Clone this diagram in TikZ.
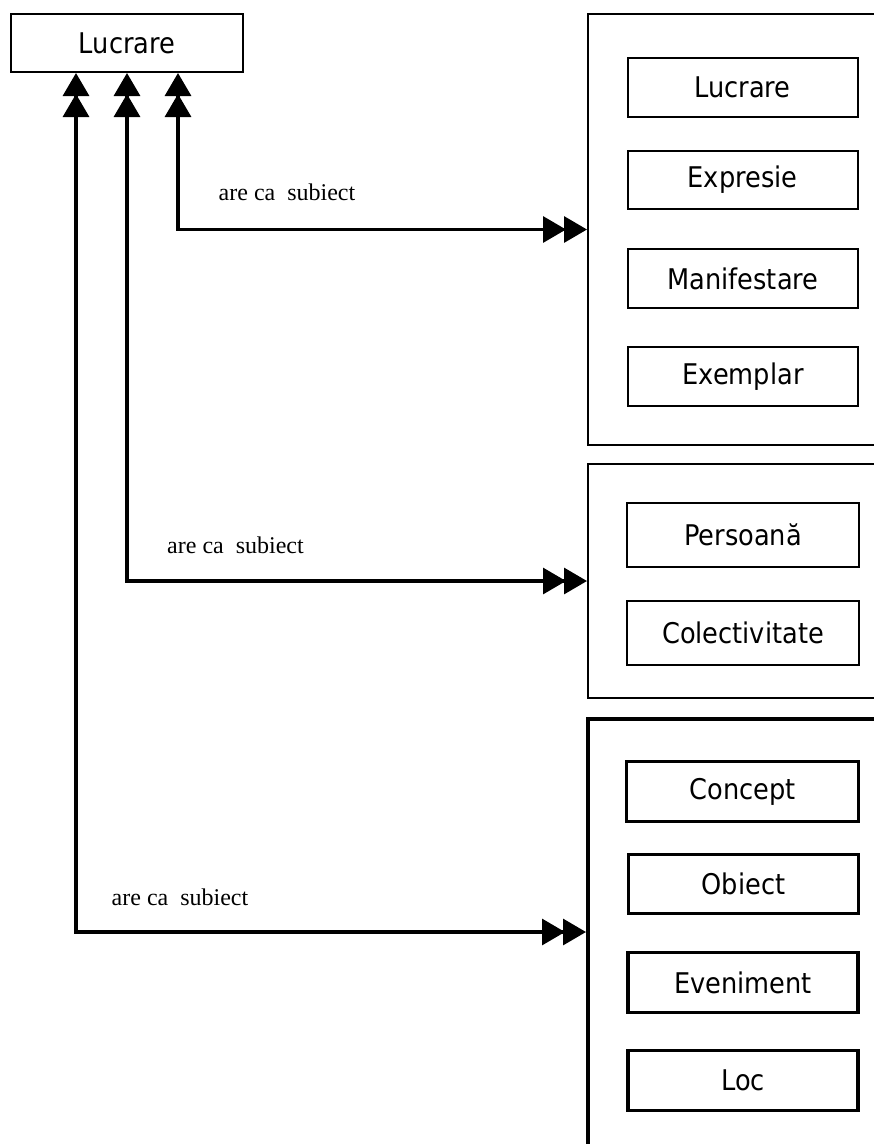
\documentclass[tikz,border=0pt]{standalone}
\usepackage{fontspec}
\setmainfont{Liberation Serif}
\newfontfamily\tah[FakeStretch=0.9]{DejaVu Sans}
\usetikzlibrary{arrows.meta}
\tikzset{
  dbltip/.tip={Triangle[length=23pt 0 0,width=26pt 0 0,sep=-2pt]Triangle[length=23pt 0 0,width=26pt 0 0]},
  sansbox/.style={draw, line width=2pt, inner sep=0pt, font=\tah\fontsize{28.5}{33}\selectfont},
  thickbox/.style={sansbox, line width=3.2pt},
  group/.style={draw, line width=2pt, inner sep=0pt},
  thickgroup/.style={group, line width=4pt},
  lbl/.style={inner sep=0pt, font=\fontsize{24}{28}\selectfont},
  conn/.style={line width=3.2pt, arrows={{dbltip}-{dbltip}}}
}
\begin{document}
\begin{tikzpicture}[x=1pt,y=-1pt]
\useasboundingbox (0,0) rectangle (874,1144);
\fill[white] (0,0) rectangle (874,1144);
\clip (0,0) rectangle (874,1144);

% top box
\node[sansbox, minimum width=232pt, minimum height=58pt] (top) at (127,43) {Lucrare};

% group boxes
\node[group, minimum width=302pt, minimum height=431pt] (g1) at (739,229.5) {};
\node[group, minimum width=302pt, minimum height=234pt] (g2) at (739,581) {};
\node[thickgroup, minimum width=302pt, minimum height=451pt] (g3) at (739,944.5) {};

% group 1 contents
\node[sansbox, minimum width=230pt, minimum height=59pt] (lucrare2) at (742.5,87.5) {Lucrare};
\node[sansbox, minimum width=230pt, minimum height=58pt] (expresie) at (742.5,180) {Expresie};
\node[sansbox, minimum width=230pt, minimum height=59pt] (manif) at (743,278.5) {Manifestare};
\node[sansbox, minimum width=230pt, minimum height=59pt] (exemplar) at (743,376.5) {Exemplar};

% group 2 contents
\node[sansbox, minimum width=232pt, minimum height=64pt] (persoana) at (743,535) {Persoană};
\node[sansbox, minimum width=232pt, minimum height=64pt] (colect) at (743,633) {Colectivitate};

% group 3 contents
\node[thickbox, minimum width=232pt, minimum height=60pt] (concept) at (742.5,791.5) {Concept};
\node[thickbox, minimum width=230pt, minimum height=59pt] (obiect) at (743.5,884) {Obiect};
\node[thickbox, minimum width=230pt, minimum height=60pt] (eveniment) at (743,982.5) {Eveniment};
\node[thickbox, minimum width=230pt, minimum height=60pt] (loc) at (743,1080.5) {Loc};

% connectors
\draw[conn] ([xshift=51pt]top.south) |- (g1.west);
\draw[conn] (top.south) |- (g2.west);
\draw[conn] ([xshift=-51pt]top.south) |- ([yshift=12.5pt]g3.west);

% labels
\node[lbl] (l1) at (287,192) {are ca\ \ subiect};
\node[lbl] (l2) at (235.5,545) {are ca\ \ subiect};
\node[lbl] (l3) at (180,897) {are ca\ \ subiect};
\end{tikzpicture}
\end{document}
